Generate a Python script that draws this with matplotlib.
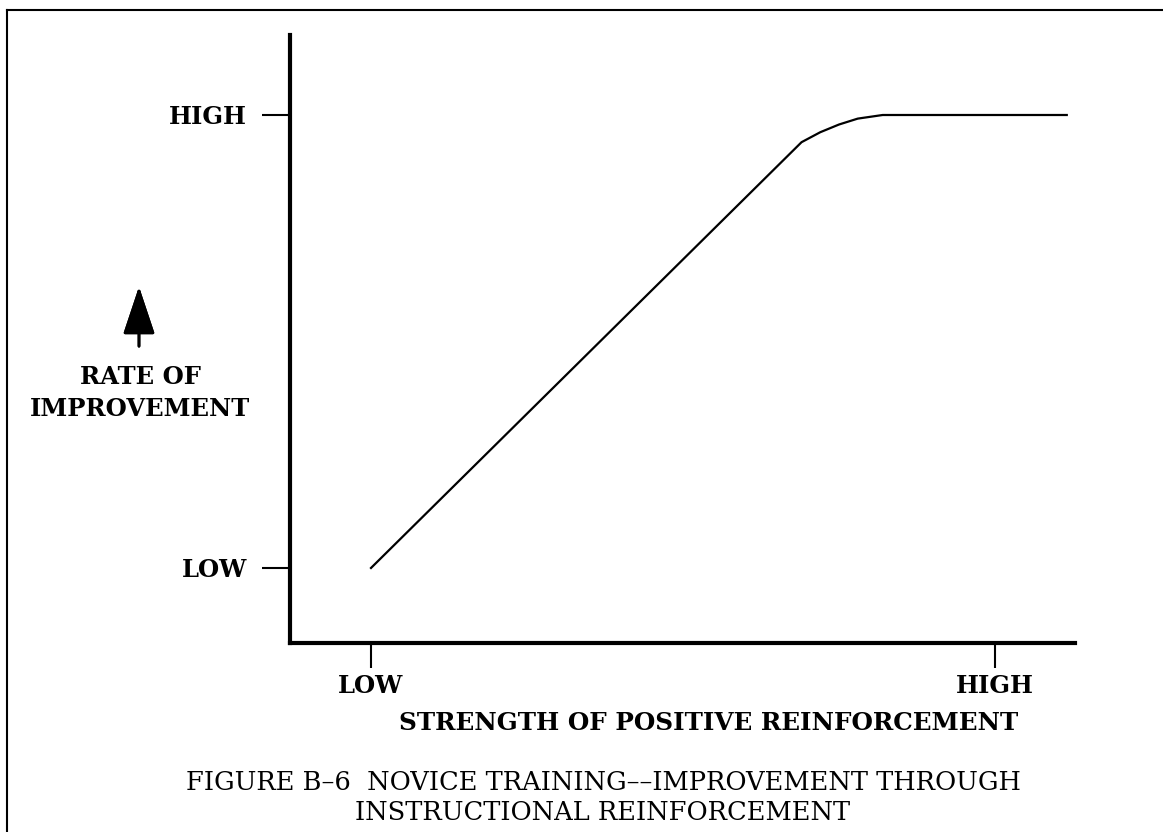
import matplotlib
matplotlib.use("Agg")
import matplotlib.pyplot as plt
from matplotlib.lines import Line2D

# curve: strength of reinforcement (LOW=0, HIGH=1) vs rate of improvement
strength = [0.0, 0.69, 0.72, 0.75, 0.78, 0.82, 1.115]
improvement = [0.0, 0.94, 0.962, 0.979, 0.992, 1.0, 1.0]

tick_pos = [0, 1]
x_tick_labels = ["LOW", "HIGH"]
y_tick_labels = ["LOW", "HIGH"]

W, H = 1163, 832


def px(x, y):
    '''pixel position -> figure fraction'''
    return x / W, 1 - y / H


plt.rcParams['font.family'] = ['DejaVu Serif']

fig = plt.figure(figsize=(W / 100, H / 100), dpi=100)
ax = fig.add_axes([290 / W, 1 - 643 / H, 785 / W, 608 / H])

ax.plot(strength, improvement, color='black', lw=1.6)
ax.set_xlim(-0.1298, 1.1282)
ax.set_ylim(-0.1656, 1.1766)

for s in ['top', 'right']:
    ax.spines[s].set_visible(False)
for s in ['left', 'bottom']:
    ax.spines[s].set_linewidth(3)

ax.set_xticks(tick_pos)
ax.set_xticklabels(x_tick_labels, fontsize=17.5, fontweight='bold')
ax.set_yticks(tick_pos)
ax.set_yticklabels(y_tick_labels, fontsize=17.5, fontweight='bold')
ax.tick_params(axis='x', direction='out', length=18, width=1.5, pad=4)
ax.tick_params(axis='y', direction='out', length=20, width=1.5, pad=11)

# border of the page figure
bx, by = px(7, 10)
fig.add_artist(Line2D([bx, bx], [0, by], color='black', lw=1.5))
fig.add_artist(Line2D([bx, 1], [by, by], color='black', lw=1.5))

# y label with arrow
fig.text(*px(140, 393), "RATE OF\nIMPROVEMENT", ha='center', va='center',
         fontsize=17.5, fontweight='bold', linespacing=1.4)
fig.add_artist(plt.annotate("", xy=px(139, 284), xytext=px(139, 349),
                            xycoords='figure fraction', textcoords='figure fraction',
                            arrowprops=dict(arrowstyle='-|>,head_length=1.2,head_width=0.4',
                                            mutation_scale=25, lw=2, color='black')))

fig.text(*px(709, 723), "STRENGTH OF POSITIVE REINFORCEMENT", ha='center', va='center',
         fontsize=17.7, fontweight='bold')

fig.text(*px(603, 797), "FIGURE B\u20136  NOVICE TRAINING\u2013\u2013IMPROVEMENT THROUGH\nINSTRUCTIONAL REINFORCEMENT",
         ha='center', va='center', fontsize=18.5, linespacing=1.25)

fig.savefig("out.png", dpi=100)
